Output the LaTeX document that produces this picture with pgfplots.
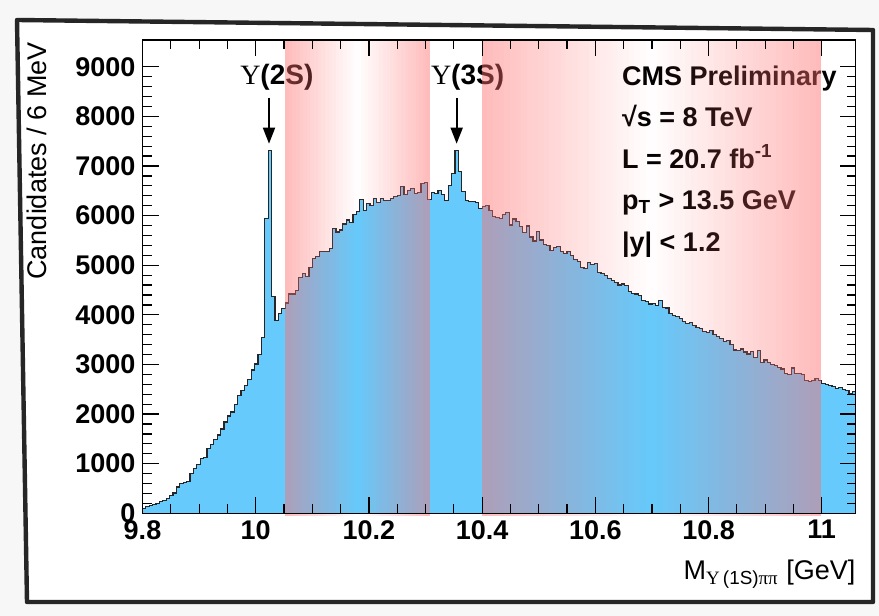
\documentclass[border=0pt]{standalone}
\usepackage{pgfplots}
\pgfplotsset{compat=1.18}
\usepackage{pgfplotstable}
\usepackage{fontspec}
\setmainfont{Liberation Sans}
\newfontfamily\serif{Liberation Serif}
\usetikzlibrary{arrows.meta}
\definecolor{histblue}{RGB}{102,202,252}
\definecolor{pinkc}{RGB}{255,110,110}

\pgfplotstableread[row sep=\\]{
n\\
100\\ 130\\ 160\\ 180\\ 200\\ 240\\ 260\\ 300\\ 360\\ 410\\
530\\ 600\\ 620\\ 640\\ 810\\ 900\\ 990\\ 1100\\ 1130\\ 1310\\
1390\\ 1480\\ 1580\\ 1700\\ 1840\\ 1960\\ 2040\\ 2190\\ 2370\\ 2470\\
2580\\ 2690\\ 2890\\ 3010\\ 3200\\ 3540\\ 5940\\ 7320\\ 4370\\ 3880\\
4020\\ 4130\\ 4240\\ 4420\\ 4420\\ 4490\\ 4750\\ 4830\\ 4780\\ 4960\\
5140\\ 5170\\ 5280\\ 5280\\ 5280\\ 5330\\ 5740\\ 5670\\ 5710\\ 5830\\
5910\\ 5860\\ 6030\\ 6080\\ 6330\\ 6110\\ 6240\\ 6200\\ 6340\\ 6270\\
6340\\ 6300\\ 6310\\ 6350\\ 6380\\ 6400\\ 6580\\ 6430\\ 6500\\ 6550\\
6450\\ 6470\\ 6650\\ 6670\\ 6330\\ 6470\\ 6450\\ 6510\\ 6430\\ 6300\\
6600\\ 6850\\ 7320\\ 6890\\ 6480\\ 6310\\ 6280\\ 6280\\ 6260\\ 6140\\
6180\\ 6200\\ 6100\\ 5980\\ 5960\\ 5950\\ 6030\\ 6060\\ 5810\\ 5930\\
5880\\ 5780\\ 5660\\ 5790\\ 5570\\ 5490\\ 5680\\ 5510\\ 5410\\ 5390\\
5290\\ 5350\\ 5370\\ 5280\\ 5240\\ 5280\\ 5190\\ 5120\\ 5080\\ 4960\\
4940\\ 5060\\ 5010\\ 5040\\ 4860\\ 4840\\ 4790\\ 4740\\ 4700\\ 4650\\
4600\\ 4620\\ 4590\\ 4470\\ 4430\\ 4420\\ 4390\\ 4290\\ 4270\\ 4220\\
4230\\ 4190\\ 4290\\ 4150\\ 4140\\ 4030\\ 3980\\ 3960\\ 3920\\ 3870\\
3830\\ 3850\\ 3780\\ 3750\\ 3720\\ 3670\\ 3650\\ 3680\\ 3600\\ 3560\\
3530\\ 3470\\ 3490\\ 3400\\ 3290\\ 3280\\ 3310\\ 3250\\ 3210\\ 3260\\
3140\\ 3280\\ 3040\\ 3090\\ 3040\\ 3000\\ 2980\\ 2940\\ 2910\\ 2810\\
2800\\ 2930\\ 2820\\ 2810\\ 2790\\ 2680\\ 2660\\ 2680\\ 2710\\ 2680\\
2620\\ 2600\\ 2580\\ 2560\\ 2510\\ 2530\\ 2490\\ 2470\\ 2420\\ 2450\\
2450\\
}\hist

\begin{document}
\begin{tikzpicture}
\fill[gray!6] (0,0) rectangle (439.5pt,308pt);
\fill[white] (8.5pt,298pt) -- (436.5pt,293pt) -- (436.5pt,7pt) -- (13.5pt,7pt) -- cycle;
\begin{axis}[
  at={(71.25pt,51.35pt)}, anchor=south west,
  width=356.6pt, height=236.65pt, scale only axis,
  xmin=9.8, xmax=11.06, ymin=0, ymax=9540,
  xtick={9.8,10,10.2,10.4,10.6,10.8,11},
  xticklabels={9.8,10,10.2,10.4,10.6,10.8,11},
  minor x tick num=3,
  ytick={0,1000,2000,3000,4000,5000,6000,7000,8000,9000},
  yticklabels={0,1000,2000,3000,4000,5000,6000,7000,8000,9000},
  minor y tick num=4,
  tick align=inside,
  major tick length=8pt, minor tick length=4.5pt,
  axis on top, clip=false,
  axis line style={line width=0.65pt},
  every tick/.style={black, line width=0.6pt},
  /pgf/number format/assume math mode=true,
  tick label style={font=\fontsize{13.5}{16}\selectfont\bfseries},
]
\addplot[const plot, fill=histblue, draw=black!85, line width=0.6pt]
  table[x expr=9.8+0.006*\coordindex, y=n] {\hist} \closedcycle;

\draw[line width=0.9pt, -{Triangle[length=8pt,width=6pt]}] (axis cs:10.0235,8380) -- (axis cs:10.0235,7450);
\draw[line width=0.9pt, -{Triangle[length=8pt,width=6pt]}] (axis cs:10.355,8380) -- (axis cs:10.355,7450);

\node[anchor=base west, inner sep=0, font=\fontsize{14}{16}\selectfont] at (axis cs:9.972,8650) {{\serif Υ}\bfseries(2S)};
\node[anchor=base west, inner sep=0, font=\fontsize{14}{16}\selectfont] at (axis cs:10.309,8650) {{\serif Υ}\bfseries(3S)};

\begin{scope}[every node/.style={anchor=base west, inner sep=0, font=\fontsize{13.5}{16}\selectfont\bfseries}]
\node at (axis cs:10.6466,8632) {CMS Preliminary};
\node at (axis cs:10.6466,7795) {√s = 8 TeV};
\node at (axis cs:10.6466,6959) {L = 20.7 fb\textsuperscript{-1}};
\node at (axis cs:10.6466,6123) {p\textsubscript{T} > 13.5 GeV};
\node at (axis cs:10.6466,5286) {|y| < 1.2};
\end{scope}

\pgfplotsinvokeforeach{0,...,39}{
  \fill[pinkc, fill opacity={0.47*abs(1-(2*#1+1)/40)}] (axis cs:{10.052+0.0064*#1},-60) rectangle (axis cs:{10.052+0.0064*(#1+1)},9540);
}
\pgfplotsinvokeforeach{0,...,59}{
  \fill[pinkc, fill opacity={0.47*abs(1-(2*#1+1)/60)}] (axis cs:{10.399+0.01*#1},-60) rectangle (axis cs:{10.399+0.01*(#1+1)},9540);
}
\end{axis}

\draw[line width=2.2pt, black!85, line join=round] (8.5pt,298pt) -- (436.5pt,293pt) -- (436.5pt,7pt) -- (13.5pt,7pt) -- cycle;

\node[rotate=90, anchor=east, inner sep=0, font=\fontsize{13.5}{16}\selectfont] at (18.5pt,287pt) {Candidates / 6 MeV};
\node[anchor=base east, inner sep=0, font=\fontsize{13.5}{16}\selectfont] at (427.85pt,18pt) {M\textsubscript{{\serif Υ}\,(1S){\serif ππ}} [GeV]};
\end{tikzpicture}
\end{document}
